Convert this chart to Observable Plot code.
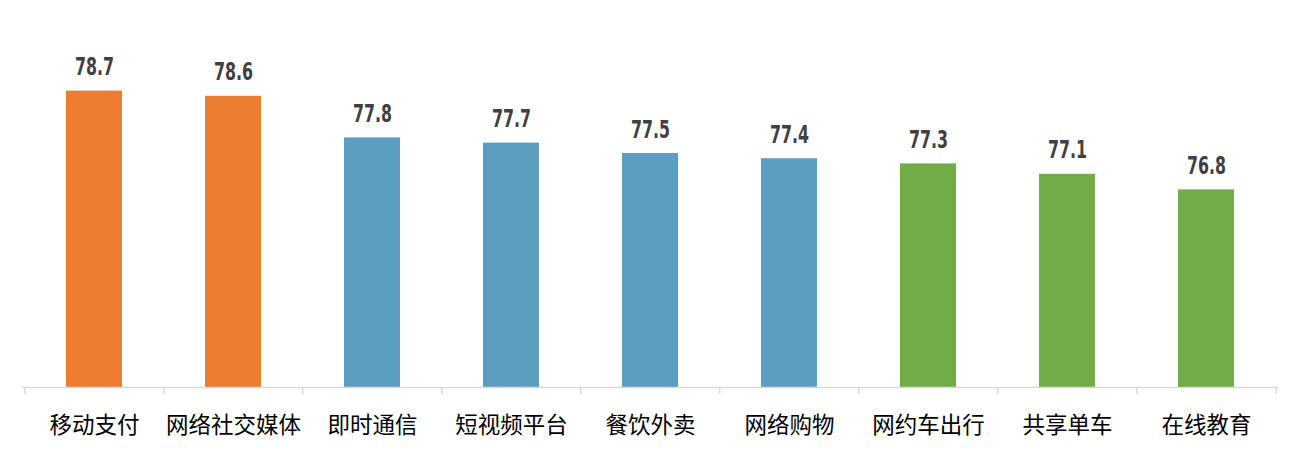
<!DOCTYPE html>
<html><head><meta charset="utf-8">
<script src="https://cdn.jsdelivr.net/npm/d3@7"></script>
<script src="https://cdn.jsdelivr.net/npm/@observablehq/plot@0.6"></script>
<style>
body{margin:0;background:#fff;}
#chart svg{display:block;}
</style>
</head><body><div id="chart"></div>
<script>
const categories = ["移动支付","网络社交媒体","即时通信","短视频平台","餐饮外卖","网络购物","网约车出行","共享单车","在线教育"];
const values = [78.7,78.6,77.8,77.7,77.5,77.4,77.3,77.1,76.8];
const groups = ["g1","g1","g2","g2","g2","g2","g3","g3","g3"];
const groupColors = {g1:"#ED7D31", g2:"#5C9EBF", g3:"#70AD47"};
const yMin = 73, yMax = 80;

const data = categories.map((c,i)=>({cat:c, v:values[i], g:groups[i]}));
const W = 1300, H = 457, ml = 22, mr = 22;
const step = (W - ml - mr) / categories.length;

const plot = Plot.plot({
  width: W, height: H,
  marginLeft: ml, marginRight: mr, marginTop: 23, marginBottom: 70,
  x: {domain: categories, paddingInner: 0.6, paddingOuter: 0.3, axis: null},
  y: {domain: [yMin, yMax], axis: null},
  marks: [
    Plot.barY(data, {x:"cat", y1: yMin, y2:"v", fill: d => groupColors[d.g]}),
    Plot.ruleY([yMin], {stroke:"#d9d9d9", strokeWidth: 1.5}),
    Plot.ruleX(categories, {x: d=>d, y1: yMin, y2: yMin, dx: -step/2, insetBottom: -7, stroke:"#d9d9d9", strokeWidth: 1.5}),
    Plot.ruleX([categories[categories.length-1]], {x: d=>d, y1: yMin, y2: yMin, dx: step/2, insetBottom: -7, stroke:"#d9d9d9", strokeWidth: 1.5}),
    Plot.text(data, {x:"cat", y:"v", text: d=>d.v.toFixed(1), dy:-24, lineAnchor:"middle",
      fill:"#404040", fontSize: 25, fontWeight:"bold", className: "vlabel",
      fontFamily:"'DejaVu Sans Condensed','DejaVu Sans',sans-serif"}),
    Plot.text(data, {x:"cat", y: yMin, text:"cat", dy: 38, lineAnchor:"middle",
      fill:"#000", fontSize: 22.5, fontFamily:"'Noto Sans CJK SC',sans-serif"})
  ]
});
d3.select(plot).selectAll(".vlabel text")
  .attr("textLength", 39).attr("lengthAdjust", "spacingAndGlyphs");
document.getElementById("chart").appendChild(plot);
</script>
</body></html>
